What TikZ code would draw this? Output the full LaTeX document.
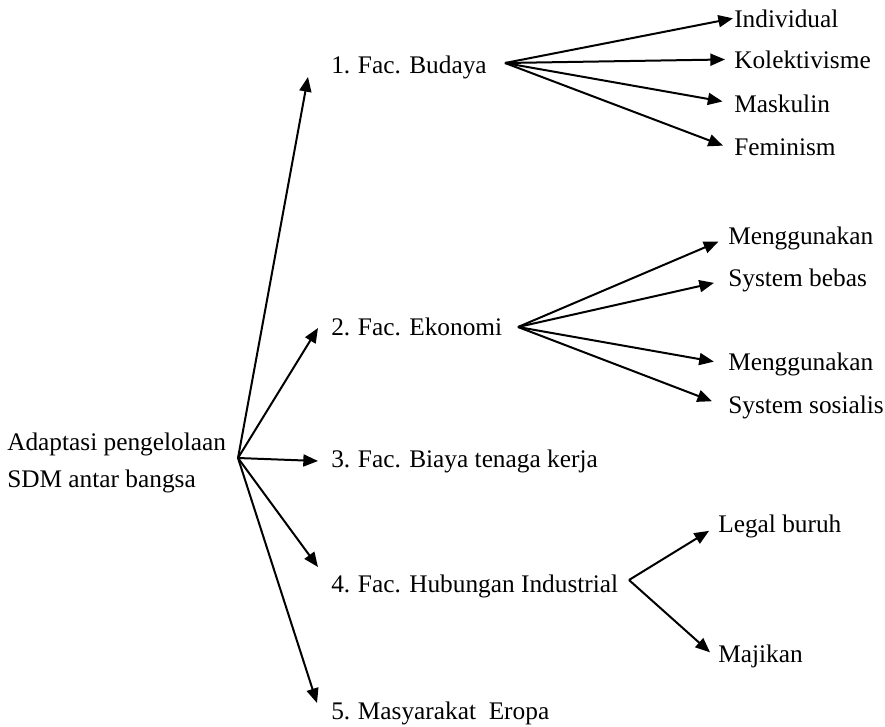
\documentclass[tikz,border=0pt]{standalone}
\usepackage{fontspec}
\setmainfont{Liberation Serif}
\usetikzlibrary{arrows.meta}
\newcommand{\nomor}[1]{\makebox[20pt][l]{#1}}

\begin{document}
\begin{tikzpicture}[x=0.75pt,y=0.75pt,yscale=-1,xscale=1,
  lbl/.style={anchor=base west,inner sep=0.75pt,font=\fontsize{19}{28}\selectfont},
  panah/.style={-{Triangle[length=11pt,width=9pt]},line width=1.5pt}]
\useasboundingbox (0,0) rectangle (885,726);
                \draw (6,463) node [anchor=west][inner sep=0.75pt][align=left,font=\fontsize{19}{27.75}\selectfont] (akar) {Adaptasi pengelolaan\\SDM antar bangsa};
                \coordinate (pusat) at (238,458);
                \draw (330,73) node [lbl] (budaya) {\nomor{1.}Fac. Budaya};
                \draw (330,335) node [lbl] (ekonomi) {\nomor{2.}Fac. Ekonomi};
                \draw (330,467) node [lbl] (biaya) {\nomor{3.}Fac. Biaya tenaga kerja};
                \draw (330,592) node [lbl] (hubungan) {\nomor{4.}Fac. Hubungan Industrial};
                \draw (330,719) node [lbl] (eropa) {\nomor{5.}Masyarakat\ \ Eropa};
                \coordinate (cabang1) at (505,63);
                \coordinate (cabang2) at (518,327);
                \coordinate (cabang4) at (629,580);
                \draw (733,27) node [lbl] (individual) {Individual};
                \draw (733,68) node [lbl] (kolektif) {Kolektivisme};
                \draw (733,112) node [lbl] (maskulin) {Maskulin};
                \draw (733,155) node [lbl] (feminism) {Feminism};
                \draw (727,244) node [lbl] (guna1) {Menggunakan};
                \draw (727,286) node [lbl] (bebas) {System bebas};
                \draw (727,370) node [lbl] (guna2) {Menggunakan};
                \draw (727,413) node [lbl] (sosialis) {System sosialis};
                \draw (717,532) node [lbl] (legal) {Legal buruh};
                \draw (717,662) node [lbl] (majikan) {Majikan};
                \draw [panah] (pusat) -- ([xshift=-16.5pt,yshift=3pt]budaya.base west);
                \draw [panah] (pusat) -- ([xshift=-9pt,yshift=-5.25pt]ekonomi.base west);
                \draw [panah] (pusat) -- ([xshift=-9pt,yshift=-4.5pt]biaya.base west);
                \draw [panah] (pusat) -- ([xshift=-9pt,yshift=-18.75pt]hubungan.base west);
                \draw [panah] (pusat) -- ([xshift=-9.75pt,yshift=-12pt]eropa.base west);
                \draw [panah] (cabang1) -- (individual.west);
                \draw [panah,shorten >=6pt] (cabang1) -- (kolektif.west);
                \draw [panah,shorten >=8pt] (cabang1) -- (maskulin.west);
                \draw [panah,shorten >=8pt] (cabang1) -- ([yshift=2pt]feminism.west);
                \draw [panah,shorten >=7pt] (cabang2) -- (guna1.west);
                \draw [panah,shorten >=10pt] (cabang2) -- (bebas.west);
                \draw [panah,shorten >=10pt] (cabang2) -- (guna2.west);
                \draw [panah,shorten >=12pt] (cabang2) -- (sosialis.west);
                \draw [panah,shorten >=7pt] (cabang4) -- (legal.west);
                \draw [panah,shorten >=7pt] (cabang4) -- ([yshift=2pt]majikan.west);
\end{tikzpicture}
\end{document}
